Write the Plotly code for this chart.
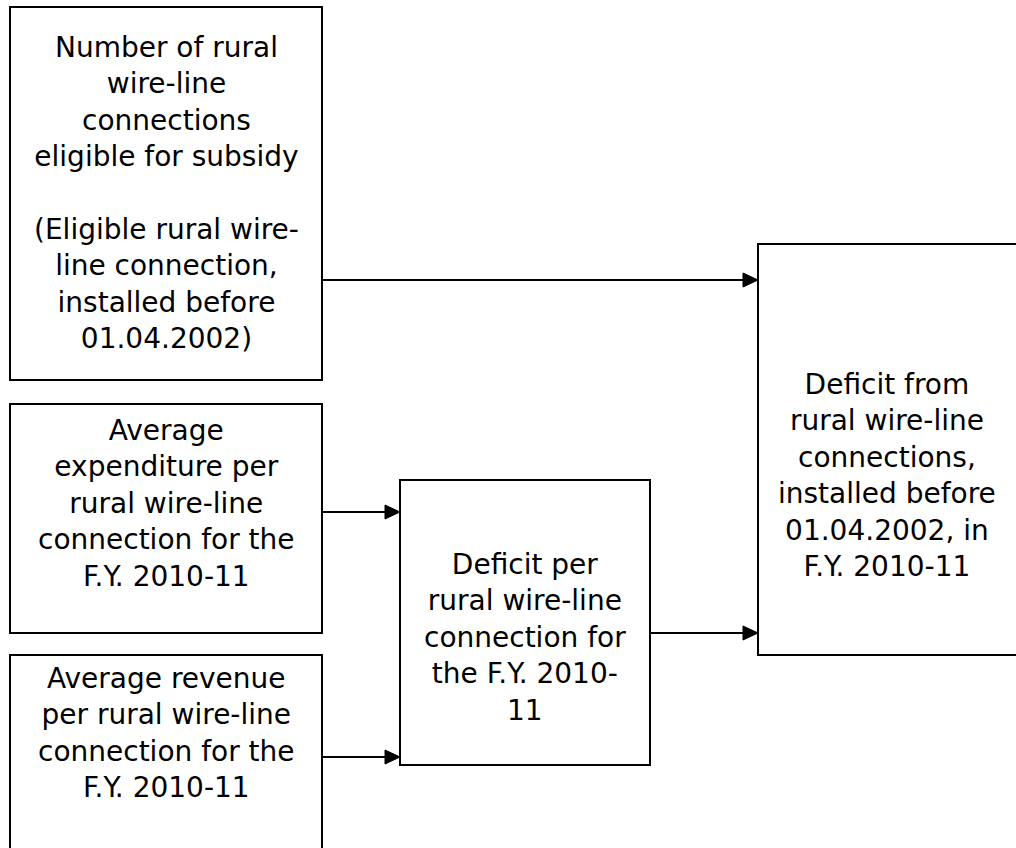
import plotly.graph_objects as go

# ---- content ----
box_labels = [
    "Number of rural<br>wire-line<br>connections<br>eligible for subsidy<br> <br>(Eligible rural wire-<br>line connection,<br>installed before<br>01.04.2002)",
    "Average<br>expenditure per<br>rural wire-line<br>connection for the<br>F.Y. 2010-11",
    "Average revenue<br>per rural wire-line<br>connection for the<br>F.Y. 2010-11",
    "Deficit per<br>rural wire-line<br>connection for<br>the F.Y. 2010-<br>11",
    "Deficit from<br>rural wire-line<br>connections,<br>installed before<br>01.04.2002, in<br>F.Y. 2010-11",
]
# flows: (source box index, target box index)
flows = [(0, 4), (1, 3), (2, 3), (3, 4)]

# ---- layout geometry (pixels) ----
W, H = 1016, 848
boxes = [  # x0, y0, x1, y1
    (10, 7, 322, 380),
    (10, 404, 322, 633),
    (10, 655, 322, 860),
    (400, 480, 650, 765),
    (758, 244, 1030, 655),
]
text_centers = [(166, 193), (166, 503), (166, 733), (525, 637), (887, 475)]
arrow_y = [280, 512, 757, 633]

fig = go.Figure()
fig.add_trace(go.Scatter(x=[0, W], y=[0, H], mode="markers", marker=dict(opacity=0), hoverinfo="skip", showlegend=False))

shapes = []
for (x0, y0, x1, y1) in boxes:
    shapes.append(dict(type="rect", x0=x0, y0=y0, x1=x1, y1=y1, line=dict(color="black", width=2), fillcolor="white", layer="below"))

head_len, head_half = 15, 7
for (s, t), y in zip(flows, arrow_y):
    xs = boxes[s][2]
    xt = boxes[t][0]
    shapes.append(dict(type="line", x0=xs, y0=y, x1=xt - head_len + 2, y1=y, line=dict(color="black", width=2)))
    shapes.append(dict(type="path", path=f"M {xt - head_len},{y - head_half} L {xt},{y} L {xt - head_len},{y + head_half} Z",
                       fillcolor="black", line=dict(color="black", width=1)))

annotations = []
for label, (cx, cy) in zip(box_labels, text_centers):
    annotations.append(dict(x=cx, y=cy, text=label, showarrow=False, xanchor="center", yanchor="middle",
                            align="center", font=dict(family="DejaVu Sans", size=28, color="black")))

fig.update_layout(
    width=W, height=H, margin=dict(l=0, r=0, t=0, b=0),
    paper_bgcolor="white", plot_bgcolor="white",
    xaxis=dict(range=[0, W], visible=False, fixedrange=True),
    yaxis=dict(range=[H, 0], visible=False, fixedrange=True),
    shapes=shapes, annotations=annotations, showlegend=False,
)

fig.write_html("out.html", config={"displayModeBar": False},
               post_script="document.body.style.margin='0';document.body.style.overflow='hidden';")
